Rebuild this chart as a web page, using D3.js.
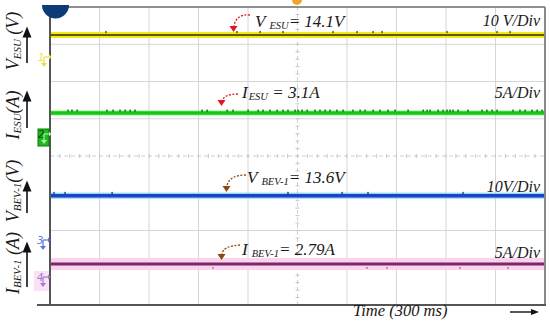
<!DOCTYPE html>
<html><head><meta charset="utf-8">
<script src="https://cdn.jsdelivr.net/npm/d3@7"></script>
<style>body{margin:0;background:#fff}svg{display:block}text{font-family:"Liberation Serif","Times New Roman",serif;font-style:italic;fill:#1a1a1a}</style>
</head><body>
<svg id="c" width="550" height="325"></svg>
<script>
// ---- data ----
const timeMs = [0, 3000];                 // 10 div x 300 ms
const vEsu = [14.1, 14.1];                // V
const iEsu = [3.1, 3.1];                  // A
const vBev = [13.6, 13.6];                // V
const iBev = [2.79, 2.79];                // A
const unitsPerDiv = [10, 5, 10, 5];
const scaleLabels = ["10 V/Div", "5A/Div", "10V/Div", "5A/Div"];
const valueLabels = [
  {main: "V", sub: "ESU", rest: "= 14.1V"},
  {main: "I", sub: "ESU", rest: " = 3.1A"},
  {main: "V", sub: "BEV-1", rest: "= 13.6V"},
  {main: "I", sub: "BEV-1", rest: "= 2.79A"}
];
const axisLabels = [
  {main: "V", sub: "ESU", rest: " (V)"},
  {main: "I", sub: "ESU", rest: "(A)"},
  {main: "V", sub: "BEV-1", rest: "(V)"},
  {main: "I", sub: "BEV-1", rest: " (A)"}
];
const timeLabel = "Time (300 ms)";
// small spikes visible on the traces (ms)
const glitchVEsu = [339, 1133, 1273, 1412, 1715, 1861, 1958, 2012, 2406, 2709, 2788];
const glitchIEsu = [109, 133, 164, 345, 382, 424, 455, 485, 515, 921, 952, 1073, 1109, 1200, 1261, 1291, 1333, 1376, 1412, 1442, 1485, 1503, 1527, 1558, 1606, 1636, 1667, 1697, 1739, 1776, 1836, 1879, 1909, 1958, 2000, 2048, 2091, 2170, 2261, 2285, 2303, 2352, 2382, 2406, 2424, 2442, 2473, 2533, 2618, 2648, 2679, 2709, 2806, 2848, 2879, 2921, 2952, 2982];
const glitchVBev = [24, 91, 376, 1442, 1770, 1927, 2503];
const glitchIBev = [988, 1921, 2042, 2485, 2776];

// ---- layout ----
const svg = d3.select("#c");
const L = 50, R = 545, T = 7, B = 305;
const x = d3.scaleLinear().domain([0, 3000]).range([L, R]);
const y = d3.scaleLinear().domain([-4, 4]).range([B, T]);
const chOffset = [1.84, 0.534, -2.43, -3.46]; // screen offsets in divisions
const series = [vEsu, iEsu, vBev, iBev];
const glitches = [glitchVEsu, glitchIEsu, glitchVBev, glitchIBev];

// grid
const g = svg.append("g");
g.selectAll(".gv").data(d3.range(300, 3000, 300).filter(d => d !== 1500)).enter().append("line")
  .attr("x1", d => x(d)).attr("x2", d => x(d)).attr("y1", T).attr("y2", B)
  .attr("stroke", "#d6d6d6").attr("stroke-width", 1);
g.selectAll(".gh").data([-3, -2, -1, 1, 2, 3]).enter().append("line")
  .attr("x1", L).attr("x2", R).attr("y1", d => y(d)).attr("y2", d => y(d))
  .attr("stroke", "#d6d6d6").attr("stroke-width", 1);
g.append("line").attr("x1", L).attr("x2", R).attr("y1", y(0)).attr("y2", y(0))
  .attr("stroke", "#cfcfcf").attr("stroke-dasharray", "4,3");
g.append("line").attr("x1", x(1500)).attr("x2", x(1500)).attr("y1", T).attr("y2", B)
  .attr("stroke", "#cfcfcf").attr("stroke-dasharray", "4,3");
g.selectAll(".mt").data(d3.range(0, 3000, 60)).enter().append("line")
  .attr("x1", d => x(d)).attr("x2", d => x(d)).attr("y1", y(0) - 2).attr("y2", y(0) + 2)
  .attr("stroke", "#c8c8c8");
g.selectAll(".mv").data(d3.range(-4, 4, 0.2)).enter().append("line")
  .attr("x1", x(1500) - 2).attr("x2", x(1500) + 2).attr("y1", d => y(d)).attr("y2", d => y(d))
  .attr("stroke", "#c8c8c8");

// traces
const styles = [
  [{c: "#f2ea10", w: 6}, {c: "#5e5a08", w: 2}],
  [{c: "#2ee02a", w: 4.5}, {c: "#19c219", w: 2}],
  [{c: "#8fd8f2", w: 6}, {c: "#1a44c8", w: 3.5}],
  [{c: "#fbd3ef", w: 12}, {c: "#7a2868", w: 3}]
];
const glitchCol = ["#4a4a10", "#154a15", "#1a2f8a", "#c0307a"];
series.forEach((s, i) => {
  const yc = d => y(chOffset[i] + d / unitsPerDiv[i]);
  const line = d3.line().x((d, k) => x(timeMs[k])).y(yc);
  styles[i].forEach(st => {
    svg.append("path").datum(s).attr("d", line).attr("fill", "none")
      .attr("stroke", st.c).attr("stroke-width", st.w);
  });
  const y0 = yc(s[0]);
  svg.selectAll(null).data(glitches[i]).enter().append("rect")
    .attr("x", d => x(d) - 0.6).attr("width", 1.3)
    .attr("y", i === 3 ? y0 + 3 : y0 - (i === 1 ? 3.5 : 4)).attr("height", i === 3 ? 1.5 : 2.2)
    .attr("fill", glitchCol[i]);
});

// borders
svg.append("line").attr("x1", L).attr("x2", R).attr("y1", T).attr("y2", T).attr("stroke", "#6a6a6a").attr("stroke-width", 1.5);
svg.append("line").attr("x1", R).attr("x2", R).attr("y1", T).attr("y2", B).attr("stroke", "#8a8a8a").attr("stroke-width", 2);
svg.append("line").attr("x1", L).attr("x2", L).attr("y1", T - 2).attr("y2", B).attr("stroke", "#555").attr("stroke-width", 2);
svg.append("line").attr("x1", 37).attr("x2", R + 1).attr("y1", B).attr("y2", B).attr("stroke", "#555").attr("stroke-width", 2);

// top markers
svg.append("path").attr("d", d3.arc()({innerRadius: 0, outerRadius: 13.5, startAngle: Math.PI / 2, endAngle: Math.PI * 1.5}))
  .attr("transform", `translate(55.5,5)`).attr("fill", "#0c3b78");
svg.append("path").attr("d", d3.arc()({innerRadius: 0, outerRadius: 5, startAngle: Math.PI / 2, endAngle: Math.PI * 1.5}))
  .attr("transform", `translate(297,0)`).attr("fill", "#f3a332");

// channel ground markers
function chMarker(cx, cy, num, col, bg, box) {
  const m = svg.append("g").attr("transform", `translate(${cx},${cy})`);
  if (bg) m.append("rect").attr("x", -9).attr("y", -9).attr("width", 15).attr("height", 20).attr("fill", bg);
  if (box) m.append("rect").attr("x", -6).attr("y", -8).attr("width", 11).attr("height", 17).attr("fill", "#20b820").attr("stroke", "#0b7a0b");
  m.append("text").attr("x", -6).attr("y", 1).attr("font-size", 10).attr("font-style", "normal")
    .style("font-family", "DejaVu Sans").style("fill", box ? "#0a4a0a" : col).text(num);
  m.append("line").attr("x1", 0).attr("x2", 5).attr("y1", -3).attr("y2", -3).attr("stroke", col).attr("stroke-width", 1.2);
  m.append("path").attr("d", "M5,-5.5L7.5,-3L5,-0.5Z").attr("fill", col);
  m.append("line").attr("x1", 0).attr("x2", 0).attr("y1", -3).attr("y2", 3).attr("stroke", col).attr("stroke-width", 1.2);
  m.append("path").attr("d", "M-3,3L3,3L0,7Z").attr("fill", col);
}
chMarker(44, 60, "1", "#ece23a", null, false);
chMarker(44, 137, "2", "#9ff09f", null, true);
chMarker(43, 243, "3", "#5a72e6", null, false);
chMarker(43, 280, "4", "#a37ad0", "#fbe1f5", false);

// left axis labels (rotated) with up arrows
const labelCenters = [41, 115, 191, 263];
const arrowSpans = [[28, 63], [92, 128], [182, 213], [243, 287]];
svg.append("defs").append("marker").attr("id", "ah").attr("viewBox", "0 0 10 10")
  .attr("refX", 5).attr("refY", 5).attr("markerWidth", 7).attr("markerHeight", 7).attr("orient", "auto-start-reverse")
  .append("path").attr("d", "M0,1L10,5L0,9Z").attr("fill", "#111");
axisLabels.forEach((lb, i) => {
  const t = svg.append("text").attr("transform", `translate(18.5,${labelCenters[i]}) rotate(-90)`)
    .attr("text-anchor", "middle").attr("font-size", 18);
  t.append("tspan").text(lb.main);
  t.append("tspan").attr("font-size", 11).attr("dy", 2.5).text(lb.sub);
  t.append("tspan").attr("dy", -2.5).text(lb.rest);
  svg.append("line").attr("x1", 27).attr("x2", 27).attr("y1", arrowSpans[i][1]).attr("y2", arrowSpans[i][0] + 4)
    .attr("stroke", "#111").attr("stroke-width", 1.6).attr("marker-end", "url(#ah)");
});

// value annotations
const annX = [255, 242, 247, 242];
const annY = [27, 98, 183, 255];
valueLabels.forEach((lb, i) => {
  const t = svg.append("text").attr("x", annX[i]).attr("y", annY[i]).attr("font-size", 17);
  t.append("tspan").text(lb.main);
  t.append("tspan").attr("font-size", 10.5).attr("dy", 2).attr("dx", i === 1 ? 1 : 4).text(lb.sub);
  t.append("tspan").attr("dy", -2).text(lb.rest);
});
const arrows = [
  {p: "M250,15 Q236,14 234,26", tip: [233.5, 32], c: "#e4141c"},
  {p: "M238,94 Q224,94 222,101", tip: [221.5, 106], c: "#e4141c"},
  {p: "M246,175 Q229,175 227,186", tip: [226.5, 192], c: "#8a4a12"},
  {p: "M240,245 Q223,246 222,254", tip: [221.5, 260], c: "#8a4a12"}
];
arrows.forEach(a => {
  svg.append("path").attr("d", a.p).attr("fill", "none").attr("stroke", a.c).attr("stroke-width", 1.3).attr("stroke-dasharray", "2,1.5");
  svg.append("path").attr("d", `M${a.tip[0] - 4},${a.tip[1] - 6}L${a.tip[0] + 4},${a.tip[1] - 6}L${a.tip[0]},${a.tip[1]}Z`).attr("fill", a.c);
});

// scale labels
const scY = [26, 98, 192, 258];
scaleLabels.forEach((s, i) => {
  svg.append("text").attr("x", 540).attr("y", scY[i]).attr("text-anchor", "end").attr("font-size", 16).text(s);
});

// time label
svg.append("text").attr("x", 353).attr("y", 316).attr("font-size", 16.5).text(timeLabel);
svg.append("line").attr("x1", 510).attr("x2", 533).attr("y1", 312).attr("y2", 312).attr("stroke", "#111").attr("stroke-width", 1.4);
svg.append("path").attr("d", "M531,309L539,312L531,315Z").attr("fill", "#111");
</script>
</body></html>
